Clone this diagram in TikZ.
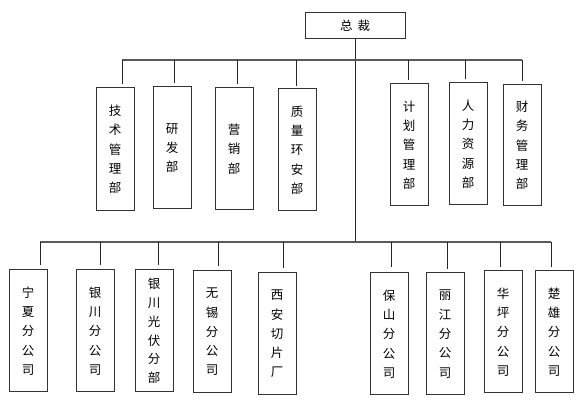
\documentclass[tikz,border=0pt]{standalone}
\usepackage{fontspec}
\newfontfamily\cjk{Noto Sans CJK SC}
\begin{document}
\begin{tikzpicture}[x=1pt,y=-1pt,
  box/.style={draw=black!80, line width=1pt, inner sep=0pt, minimum width=38pt,
    minimum height=122pt, align=center, font=\cjk\fontsize{12.5}{19.3}\selectfont},
  bus/.style={draw=black!65, line width=1.1pt},
  link/.style={draw=black!85, line width=0.9pt}]
\useasboundingbox (0,0) rectangle (579,411);
% top
\node[box, minimum width=100pt, minimum height=26pt] (ceo) at (355,25.5) {总\hspace{5pt}裁};
% upper departments
\node[box, minimum height=123pt] (d1) at (115,149.5) {技\\术\\管\\理\\部};
\node[box] (d2) at (172,148) {研\\发\\部};
\node[box] (d3) at (234,149) {营\\销\\部};
\node[box] (d4) at (297,150) {质\\量\\环\\安\\部};
\node[box] (d5) at (409,145) {计\\划\\管\\理\\部};
\node[box] (d6) at (468,144) {人\\力\\资\\源\\部};
\node[box, minimum height=121pt] (d7) at (522,145.5) {财\\务\\管\\理\\部};
% lower companies
\node[box] (b1) at (28,331) {宁\\夏\\分\\公\\司};
\node[box] (b2) at (95,331) {银\\川\\分\\公\\司};
\node[box, font=\cjk\fontsize{12.5}{18.8}\selectfont] (b3) at (154,331) {银\\川\\光\\伏\\分\\部};
\node[box] (b4) at (212,332) {无\\锡\\分\\公\\司};
\node[box] (b5) at (277,334) {西\\安\\切\\片\\厂};
\node[box] (b6) at (389,334) {保\\山\\分\\公\\司};
\node[box] (b7) at (445,334) {丽\\江\\分\\公\\司};
\node[box] (b8) at (503,332) {华\\坪\\分\\公\\司};
\node[box] (b9) at (554,332) {楚\\雄\\分\\公\\司};
% junction coordinates
\coordinate (lowj) at (355,242);
\coordinate (u1) at (122,60); \coordinate (e1) at (122,84);
\coordinate (u2) at (174,60); \coordinate (e2) at (174,83);
\coordinate (u3) at (237,60); \coordinate (e3) at (237,84);
\coordinate (u4) at (296,60); \coordinate (e4) at (296,86);
\coordinate (u5) at (408,60); \coordinate (e5) at (408,80);
\coordinate (u6) at (465,60); \coordinate (e6) at (465,79);
\coordinate (u7) at (522,60); \coordinate (e7) at (522,81);
\coordinate (l1) at (40,242);  \coordinate (f1) at (40,265);
\coordinate (l2) at (100,242); \coordinate (f2) at (100,265);
\coordinate (l3) at (158,242); \coordinate (f3) at (158,265);
\coordinate (l4) at (218,242); \coordinate (f4) at (218,266);
\coordinate (l5) at (283,242); \coordinate (f5) at (283,268);
\coordinate (l6) at (391,242); \coordinate (f6) at (391,267);
\coordinate (l7) at (447,242); \coordinate (f7) at (447,269);
\coordinate (l8) at (500,242); \coordinate (f8) at (500,267);
\coordinate (l9) at (551,242); \coordinate (f9) at (551,267);
% connectors
\draw[link] (ceo.south) -- (lowj);
\draw[bus] (u1) -- (u7);
\draw[bus] (l1) -- (l9);
\foreach \i in {1,...,7} { \draw[link] (u\i) -- (e\i); }
\foreach \i in {1,...,9} { \draw[link] (l\i) -- (f\i); }
\end{tikzpicture}
\end{document}
